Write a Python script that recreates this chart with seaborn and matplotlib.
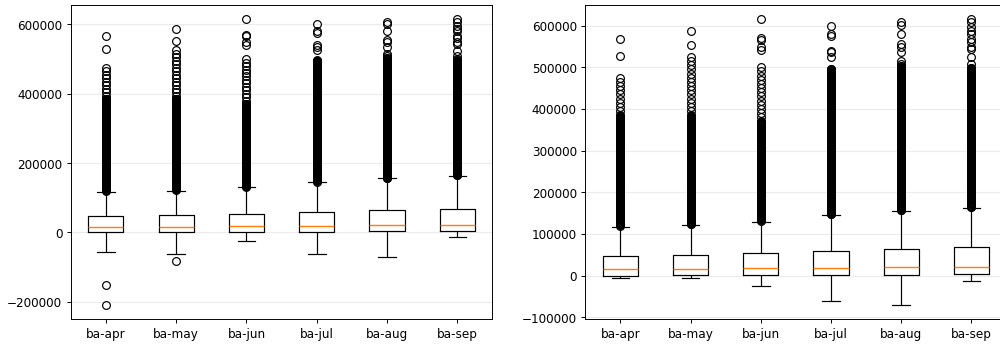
import numpy as np
import pandas as pd
import seaborn as sns
import matplotlib.pyplot as plt
from matplotlib.ticker import MultipleLocator

months = ['ba-apr', 'ba-may', 'ba-jun', 'ba-jul', 'ba-aug', 'ba-sep']

# box statistics
q1 = [500, 1500, 2000, 2500, 3000, 4000]
median = [15500, 17000, 18000, 19000, 20500, 22000]
q3 = [48000, 50000, 54000, 60000, 64500, 68000]
whisker_hi = [118000, 121000, 130000, 145000, 156000, 163500]

# the low end is the only thing that differs between the two panels
whisker_lo_left = [-56000, -61000, -25000, -61000, -70000, -13500]
whisker_lo_right = [-5000, -5000, -25000, -61000, -70000, -13500]
low_out_left = [[-151000, -209000], [-81000], [], [], [], []]
low_out_right = [[], [], [], [], [], []]

# high outliers: a solid run starting just above the whisker,
# then a looser run of circles, then single points
run_start = [120000, 123000, 132500, 147000, 157000, 164500]
solid_top = [385000, 385000, 370000, 497000, 505000, 500000]
loose_top = [480000, 535000, 510000, 497000, 505000, 500000]
single_hi = [
    [528000, 568000],
    [553000, 587000],
    [542000, 548000, 566000, 570000, 616000],
    [525000, 536000, 540000, 576000, 580000, 600000],
    [508000, 516000, 536000, 548000, 556000, 580000, 602000, 608000],
    [508000, 524000, 544000, 548000, 560000, 568000, 580000, 586000, 596000, 608000, 616000],
]


def month_values(i, lo, low_out):
    # many copies of the quartiles so the library recovers them exactly
    core = [q1[i], median[i], q3[i]] * 2000
    runs = list(np.arange(run_start[i], solid_top[i], 1500)) + \
        list(np.arange(solid_top[i], loose_top[i], 10000))
    return core + [lo, whisker_hi[i]] + low_out + runs + single_hi[i]


def panel_frame(whisker_lo, low_out):
    rows = []
    for i, m in enumerate(months):
        for v in month_values(i, whisker_lo[i], low_out[i]):
            rows.append((m, v))
    return pd.DataFrame(rows, columns=['month', 'value'])


df_left = panel_frame(whisker_lo_left, low_out_left)
df_right = panel_frame(whisker_lo_right, low_out_right)

fig = plt.figure(figsize=(1000.4 / 86, 345.4 / 86), dpi=86)
ax1 = fig.add_axes([0.0707, 0.0745, 0.4216, 0.911])
ax2 = fig.add_axes([0.585, 0.0745, 0.4212, 0.911])

for ax, df, step in [(ax1, df_left, 200000), (ax2, df_right, 100000)]:
    sns.boxplot(data=df, x='month', y='value', order=months, ax=ax,
                width=0.5, fill=False, color='black', linewidth=1,
                whis=1.5, fliersize=6.5,
                flierprops=dict(marker='o', markerfacecolor='none',
                                markeredgecolor='black', markersize=6.5,
                                markeredgewidth=1),
                medianprops=dict(color='#ff7f0e', linewidth=1.2))
    ax.set_xlabel('')
    ax.set_ylabel('')
    ax.yaxis.set_major_locator(MultipleLocator(step))
    ax.yaxis.grid(True, color='#ebebeb', linewidth=1)
    ax.xaxis.grid(False)
    ax.set_axisbelow(True)

fig.savefig('out.png', dpi=86)
